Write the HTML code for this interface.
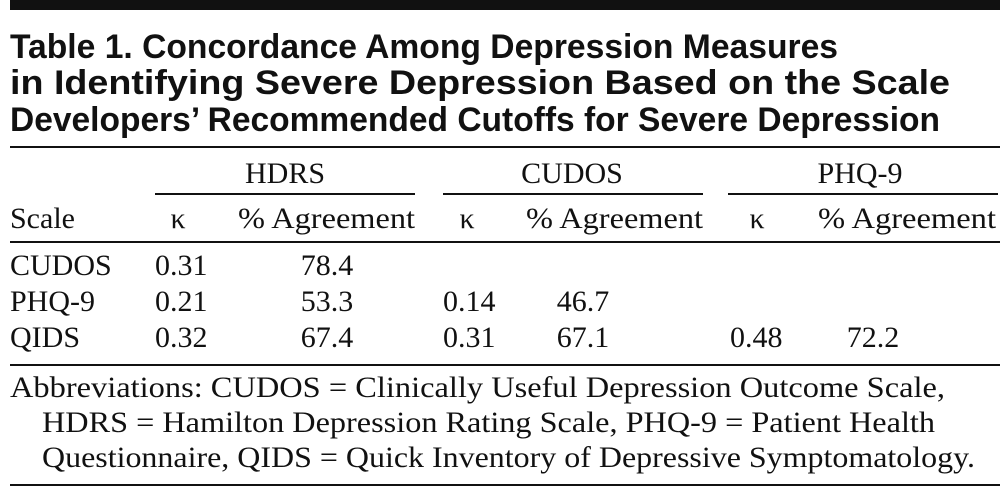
<!DOCTYPE html>
<html><head><meta charset="utf-8"><style>
html,body{margin:0;padding:0;background:#fff;}
svg{display:block;}
.t{font-family:"Liberation Sans",sans-serif;font-weight:bold;font-size:34px;fill:#111;}
.s{font-family:"Liberation Serif",serif;font-size:30px;fill:#111;}
</style></head><body>
<svg width="1008" height="488" viewBox="0 0 1008 488" xmlns="http://www.w3.org/2000/svg">
<rect x="10" y="0" width="990" height="10" fill="#111"/>
<text class="t" x="10" y="58" textLength="828" lengthAdjust="spacingAndGlyphs">Table 1. Concordance Among Depression Measures</text>
<text class="t" x="10" y="94" textLength="940" lengthAdjust="spacingAndGlyphs">in Identifying Severe Depression Based on the Scale</text>
<text class="t" x="10" y="131" textLength="930" lengthAdjust="spacingAndGlyphs">Developers’ Recommended Cutoffs for Severe Depression</text>
<rect x="10" y="146" width="990" height="2" fill="#111"/>
<text class="s" x="285" y="183" text-anchor="middle">HDRS</text>
<text class="s" x="572" y="183" text-anchor="middle">CUDOS</text>
<text class="s" x="860" y="183" text-anchor="middle">PHQ-9</text>
<rect x="155" y="193" width="260" height="2" fill="#111"/>
<rect x="443" y="193" width="260" height="2" fill="#111"/>
<rect x="728" y="193" width="270" height="2" fill="#111"/>
<text class="s" x="10" y="228">Scale</text>
<text class="s" x="178" y="228" text-anchor="middle">κ</text>
<text class="s" x="238" y="228" textLength="177" lengthAdjust="spacingAndGlyphs">% Agreement</text>
<text class="s" x="467" y="228" text-anchor="middle">κ</text>
<text class="s" x="526" y="228" textLength="177" lengthAdjust="spacingAndGlyphs">% Agreement</text>
<text class="s" x="757" y="228" text-anchor="middle">κ</text>
<text class="s" x="818" y="228" textLength="178" lengthAdjust="spacingAndGlyphs">% Agreement</text>
<rect x="10" y="241" width="990" height="2" fill="#111"/>
<text class="s" x="10" y="275">CUDOS</text>
<text class="s" x="155" y="275">0.31</text>
<text class="s" x="327" y="275" text-anchor="middle">78.4</text>
<text class="s" x="10" y="311">PHQ-9</text>
<text class="s" x="155" y="311">0.21</text>
<text class="s" x="327" y="311" text-anchor="middle">53.3</text>
<text class="s" x="443" y="311">0.14</text>
<text class="s" x="583" y="311" text-anchor="middle">46.7</text>
<text class="s" x="10" y="347">QIDS</text>
<text class="s" x="155" y="347">0.32</text>
<text class="s" x="327" y="347" text-anchor="middle">67.4</text>
<text class="s" x="443" y="347">0.31</text>
<text class="s" x="583" y="347" text-anchor="middle">67.1</text>
<text class="s" x="730" y="347">0.48</text>
<text class="s" x="873" y="347" text-anchor="middle">72.2</text>
<rect x="10" y="364" width="990" height="2" fill="#111"/>
<text class="s" x="10" y="397" textLength="935" lengthAdjust="spacingAndGlyphs">Abbreviations: CUDOS = Clinically Useful Depression Outcome Scale,</text>
<text class="s" x="42" y="432" textLength="893" lengthAdjust="spacingAndGlyphs">HDRS = Hamilton Depression Rating Scale, PHQ-9 = Patient Health</text>
<text class="s" x="42" y="467" textLength="933" lengthAdjust="spacingAndGlyphs">Questionnaire, QIDS = Quick Inventory of Depressive Symptomatology.</text>
<rect x="10" y="484" width="990" height="2" fill="#111"/>
</svg>
</body></html>
